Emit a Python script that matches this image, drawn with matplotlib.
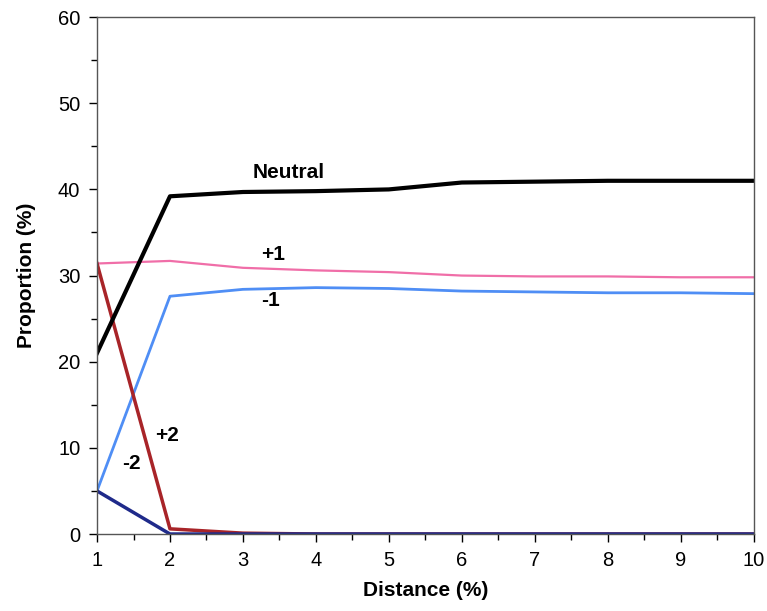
import numpy as np
import matplotlib.pyplot as plt
from matplotlib.ticker import MultipleLocator

plt.rcParams['font.family'] = ['Liberation Sans', 'DejaVu Sans']

distance = [1, 2, 3, 4, 5, 6, 7, 8, 9, 10]
neutral = [21.0, 39.2, 39.7, 39.8, 40.0, 40.8, 40.9, 41.0, 41.0, 41.0]
plus1 = [31.4, 31.7, 30.9, 30.6, 30.4, 30.0, 29.9, 29.9, 29.8, 29.8]
minus1 = [5.0, 27.6, 28.4, 28.6, 28.5, 28.2, 28.1, 28.0, 28.0, 27.9]
plus2 = [31.4, 0.6, 0.1, 0.0, 0.0, 0.0, 0.0, 0.0, 0.0, 0.0]
minus2 = [5.0, 0.0, 0.0, 0.0, 0.0, 0.0, 0.0, 0.0, 0.0, 0.0]

fig = plt.figure(figsize=(7.67, 6.11), dpi=100)
ax = fig.add_axes([0.1265, 0.126, 0.856, 0.846])

ax.plot(distance, plus1, color='#f06ea8', lw=1.6)
ax.plot(distance, minus1, color='#4f8ef5', lw=2.0)
ax.plot(distance, plus2, color='#a82428', lw=2.5)
ax.plot(distance, minus2, color='#1f2a8a', lw=2.5)
ax.plot(distance, neutral, color='black', lw=3.0)

# series labels
lab = dict(fontsize=15, fontweight='bold', va='center', ha='left')
ax.text(3.13, 42.0, 'Neutral', **lab)
ax.text(3.25, 32.4, '+1', **lab)
ax.text(3.25, 27.1, '-1', **lab)
ax.text(1.79, 11.4, '+2', **lab)
ax.text(1.34, 8.2, '-2', **lab)

ax.set_xlim(1, 10)
ax.set_ylim(0, 60)
ax.xaxis.set_major_locator(MultipleLocator(1))
ax.xaxis.set_minor_locator(MultipleLocator(0.5))
ax.yaxis.set_major_locator(MultipleLocator(10))
ax.yaxis.set_minor_locator(MultipleLocator(5))
ax.tick_params(which='major', length=6, width=1, labelsize=14.5, pad=6)
ax.tick_params(which='minor', length=4, width=1)
for s in ax.spines.values():
    s.set_color('#555555')
    s.set_linewidth(1)

ax.set_xlabel('Distance (%)', fontsize=15, fontweight='bold', labelpad=8)
ax.set_ylabel('Proportion (%)', fontsize=15, fontweight='bold', labelpad=16)

fig.savefig('out.png', dpi=100)
